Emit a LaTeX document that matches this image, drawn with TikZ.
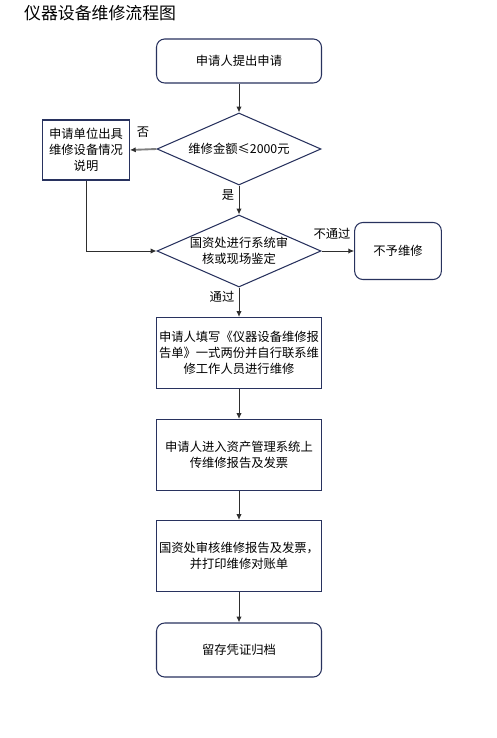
\documentclass[tikz,border=0pt]{standalone}
\usepackage{fontspec}
\setmainfont{Noto Sans CJK SC}
\usepackage{xcolor}
\usepackage{tikz}
\usetikzlibrary{shapes.geometric, positioning, arrows.meta}
\definecolor{BoxNavy}{HTML}{28325E}
\definecolor{FlowInk}{HTML}{2E2E2E}
\definecolor{SideGray}{HTML}{7F7F7F}

\tikzset{
  proc/.style={draw=BoxNavy, line width=0.9pt, fill=white, align=center,
    minimum width=4.95cm, minimum height=2.13cm, inner sep=1pt,
    font=\fontsize{10.5pt}{13.5pt}\selectfont},
  terminal/.style={proc, rounded corners=7pt, minimum height=1.32cm},
  decision/.style={diamond, draw=BoxNavy, line width=0.9pt, fill=white,
    aspect=2.27, minimum width=4.92cm, minimum height=2.16cm, inner sep=0pt},
  flow/.style={draw=FlowInk, line width=0.8pt, -{Latex[length=5pt,width=4.5pt,color=FlowInk]}},
  tag/.style={font=\fontsize{10.5pt}{12pt}\selectfont, inner sep=0pt}
}

\begin{document}
\begin{tikzpicture}[x=0.03cm, y=-0.03cm]
    \useasboundingbox (0,0) rectangle (496,738);
    \node[anchor=west, inner sep=0pt, font=\fontsize{14.4pt}{16pt}\selectfont] (title) at (24,13) {仪器设备维修流程图};

    \node[terminal] (apply) at (239,61) {申请人提出申请};
    \node[decision, label={[tag]center:维修金额≤2000元}] (amount) at (239,149) {};
    \node[proc, minimum width=2.6cm, minimum height=1.8cm] (explain) at (86,150) {申请单位出具\\维修设备情况\\说明};
    \node[decision, label={[tag, align=center, font=\fontsize{10.5pt}{13.5pt}\selectfont]center:国资处进行系统审\\核或现场鉴定}] (audit) at (239,251) {};
    \node[terminal, minimum width=2.6cm, minimum height=1.71cm] (reject) at (398,251) {不予维修};
    \node[proc] (fill) at (239,353) {申请人填写《仪器设备维修报\\告单》一式两份并自行联系维\\修工作人员进行维修};
    \node[proc] (upload) at (239,455) {申请人进入资产管理系统上\\传维修报告及发票};
    \node[proc] (review) at (239,556) {国资处审核维修报告及发票，\\并打印维修对账单};
    \node[terminal, minimum height=1.62cm] (archive) at (239,650) {留存凭证归档};

    % connectors
    \draw[flow] (apply) -- (amount);
    \draw[flow, draw=SideGray, line width=1.6pt] (amount.west) -- (explain.east);
    \draw[flow] (amount) -- (audit);
    \draw[flow] (explain.south) |- (audit.west);
    \draw[flow] (audit.east) -- (reject.west);
    \draw[flow] (audit) -- (fill);
    \draw[flow] (fill) -- (upload);
    \draw[flow] (upload) -- (review);
    \draw[flow] (review) -- (archive);

    \node[tag] (no) at (143,132) {否};
    \node[tag] (yes) at (228,195) {是};
    \node[tag] (fail) at (332,234) {不通过};
    \node[tag] (pass) at (222,297) {通过};
\end{tikzpicture}
\end{document}
